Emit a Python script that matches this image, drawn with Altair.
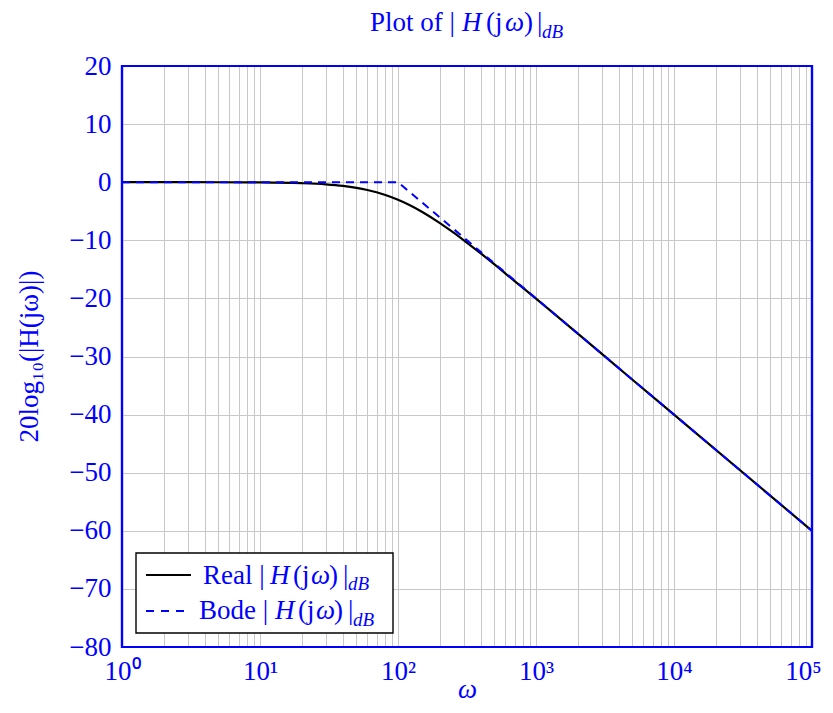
import altair as alt
import pandas as pd

# ---- data ----
omega_real = [1, 2, 5, 10, 20, 30, 40, 50, 60, 70, 80, 100, 120, 150, 200, 250, 300,
              400, 500, 700, 1000, 2000, 5000, 10000, 100000]
db_real = [0.0, 0.0, -0.01, -0.04, -0.17, -0.37, -0.64, -0.97, -1.34, -1.73, -2.15, -3.01,
           -3.87, -5.12, -6.99, -8.60, -10.0, -12.30, -14.15, -17.03, -20.04, -26.03,
           -34.0, -40.0, -60.0]
omega_bode = [1, 100, 100000]
db_bode = [0, 0, -60]

x_grid_values = [m * 10 ** k for k in range(5) for m in range(1, 10)] + [100000]
y_tick_values = [-80, -70, -60, -50, -40, -30, -20, -10, 0, 10, 20]
x_tick_labels = ["10⁰", "10¹", "10²", "10³", "10⁴", "10⁵"]

BLUE = "#0000ff"
FONT = "Liberation Serif"
FS = 27
SUB = 19
W, H = 690, 581

real_df = pd.DataFrame({"omega": omega_real, "db": db_real})
bode_df = pd.DataFrame({"omega": omega_bode, "db": db_bode})

x_scale = alt.Scale(type="log", domain=[1, 100000], nice=False)
y_scale = alt.Scale(domain=[-80, 20], nice=False)

lab = "[" + ",".join("'%s'" % s for s in x_tick_labels) + "]"
x_label_expr = ("abs(log(datum.value)/LN10 - round(log(datum.value)/LN10)) < 0.001 ? "
                + lab + "[round(log(datum.value)/LN10)] : ''")

x_axis = alt.Axis(
    values=x_grid_values, labelExpr=x_label_expr, grid=True, ticks=False, domain=False,
    labelFont=FONT, labelFontSize=FS, labelColor=BLUE, labelBaseline="alphabetic",
    labelPadding=32, labelOverlap=False, labelFlush=False, labelBound=False,
    labelOffset={"condition": {"test": "datum.value > 99999", "value": -9}, "value": 0},
    title="ω", titleFont=FONT, titleFontStyle="italic", titleFontSize=FS,
    titleFontWeight="normal", titleColor=BLUE, titleX=345, titleY=50,
    titleBaseline="alphabetic", titleAlign="center",
    gridColor="#c8c8c8", gridWidth=1,
)
y_axis = alt.Axis(
    values=y_tick_values,
    labelExpr="datum.value < 0 ? '−' + abs(datum.value) : '' + datum.value",
    grid=True, ticks=False, domain=False,
    labelFont=FONT, labelFontSize=FS, labelColor=BLUE, labelPadding=11,
    labelBaseline="middle", labelOverlap=False, labelFlush=False,
    title="20log₁₀(|H(jω)|)", titleFont=FONT, titleFontSize=FS, titleFontWeight="normal",
    titleColor=BLUE, titleX=-85, titleY=290, titleAngle=270, titleBaseline="alphabetic",
    titleAlign="center",
    gridColor="#c8c8c8", gridWidth=1,
)

real = alt.Chart(real_df).mark_line(color="black", strokeWidth=2.2, interpolate="monotone").encode(
    x=alt.X("omega:Q", scale=x_scale, axis=x_axis),
    y=alt.Y("db:Q", scale=y_scale, axis=y_axis),
)
bode = alt.Chart(bode_df).mark_line(color=BLUE, strokeWidth=2, strokeDash=[8, 6]).encode(
    x=alt.X("omega:Q", scale=x_scale, axis=x_axis),
    y=alt.Y("db:Q", scale=y_scale, axis=y_axis),
)

one = alt.Data(values=[{"k": 1}])

# blue frame drawn above the grid
frame = alt.Chart(one).mark_rect(filled=False, stroke=BLUE, strokeWidth=2.2).encode(
    x=alt.value(0), x2=alt.value(W), y=alt.value(0), y2=alt.value(H)
)


def txt(text, x, y, size=FS, style="normal"):
    return alt.Chart(one).mark_text(
        text=text, font=FONT, fontSize=size, color=BLUE, align="left",
        baseline="alphabetic", fontStyle=style,
    ).encode(x=alt.value(x), y=alt.value(y))


def rich(prefix, xs, y, ysub):
    # prefix, H, (j, ω, ), |, dB
    parts = [(prefix, "normal"), ("H", "italic"), ("(j", "normal"), ("ω", "italic"),
             (")", "normal"), ("|", "normal")]
    layers = [txt(t, x, y, style=s) for (t, s), x in zip(parts, xs[:6])]
    layers.append(txt("dB", xs[6], ysub, size=SUB, style="italic"))
    return layers


# title
title_parts = rich("Plot of |", [248, 340, 364, 383, 402, 415, 420], -35, -28)

# legend
legend_box = alt.Chart(one).mark_rect(fill="white", stroke="black", strokeWidth=1.4).encode(
    x=alt.value(14), x2=alt.value(271), y=alt.value(487), y2=alt.value(567)
)
leg_real_line = alt.Chart(one).mark_rule(color="black", strokeWidth=2.2).encode(
    x=alt.value(24), x2=alt.value(69), y=alt.value(509)
)
leg_bode_line = alt.Chart(one).mark_rule(color=BLUE, strokeWidth=2, strokeDash=[8, 7]).encode(
    x=alt.value(24), x2=alt.value(69), y=alt.value(545)
)
leg_real = rich("Real |", [81, 148, 171, 189, 207, 221, 226], 518, 524)
leg_bode = rich("Bode |", [77, 153, 176, 194, 212, 226, 231], 553, 560)

chart = alt.layer(
    real, bode, frame, *title_parts, legend_box, leg_real_line, leg_bode_line,
    *leg_real, *leg_bode,
).properties(
    width=W, height=H,
    autosize=alt.AutoSizeParams(type="none"),
    padding={"left": 114, "top": 58, "right": 11, "bottom": 56},
).configure_view(
    stroke=BLUE, strokeWidth=2.2
).configure_axis(domain=False)

chart.save("out.html", embed_options={"renderer": "svg", "actions": False})
